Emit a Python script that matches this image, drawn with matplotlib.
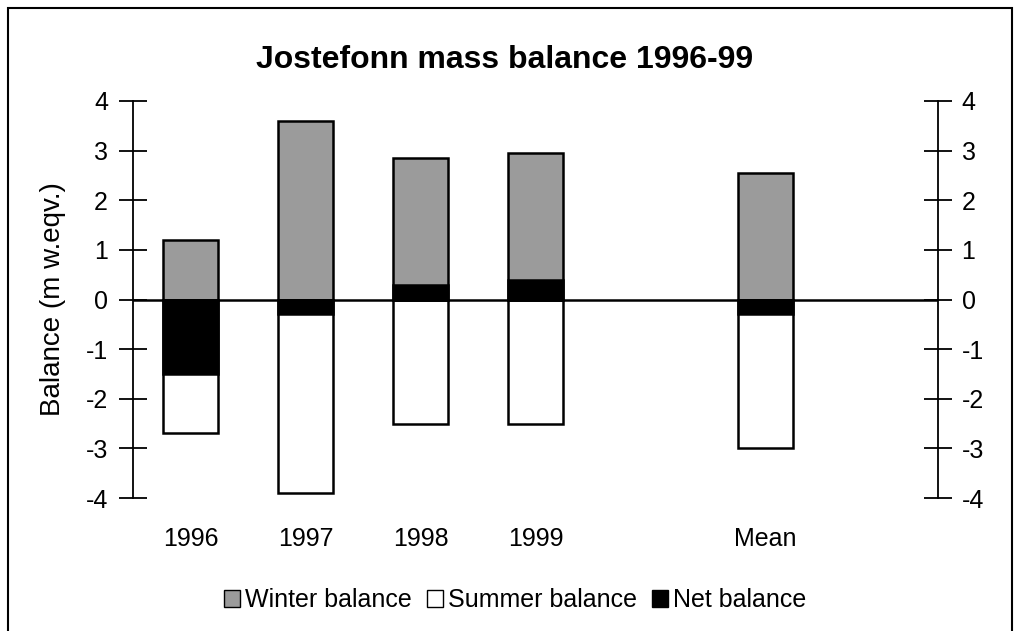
import matplotlib
matplotlib.use("Agg")
import matplotlib.pyplot as plt
from matplotlib.patches import Rectangle, Patch
import numpy as np

plt.rcParams['font.family'] = ['Liberation Sans', 'DejaVu Sans']

categories = ['1996', '1997', '1998', '1999', '', 'Mean', '']
winter = [1.2, 3.6, 2.85, 2.95, np.nan, 2.55, np.nan]
summer = [-2.7, -3.9, -2.5, -2.5, np.nan, -3.0, np.nan]
net = [-1.5, -0.3, 0.3, 0.4, np.nan, -0.3, np.nan]
yticks = [-4, -3, -2, -1, 0, 1, 2, 3, 4]

W, H = 1015, 631
fig = plt.figure(figsize=(W / 100, H / 100), dpi=100)

# outer frame
fig.patches.append(Rectangle((8 / W, -0.1), (1012 - 8) / W, (H - 8) / H + 0.1,
                             transform=fig.transFigure, fill=False,
                             edgecolor='black', linewidth=1.5))

ax = fig.add_axes([133 / W, (H - 498) / H, (938 - 133) / W, (498 - 101) / H])
x = np.arange(len(categories))
bw = 0.48
winter_col = '#9b9b9b'
ax.bar(x, winter, width=bw, color=winter_col, edgecolor='black', linewidth=1.8, zorder=2)
ax.bar(x, summer, width=bw, color='white', edgecolor='black', linewidth=1.8, zorder=2)
ax.bar(x, net, width=bw, color='black', edgecolor='black', linewidth=1.8, zorder=3)

ax.set_xlim(-0.5, len(categories) - 0.5)
ax.set_ylim(-4, 4)
ax.axhline(0, color='black', linewidth=1.8, zorder=4)

for s in ['top', 'bottom', 'right']:
    ax.spines[s].set_visible(False)
ax.spines['left'].set_linewidth(1.3)
ax.set_yticks(yticks)
ax.set_yticklabels([str(v) for v in yticks])
ax.tick_params(axis='y', direction='inout', length=20, width=1.3, labelsize=18, pad=8)
ax.set_xticks(x)
ax.set_xticklabels(categories)
ax.tick_params(axis='x', length=0, labelsize=18, pad=21)
ax.set_ylabel('Balance (m w.eqv.)', fontsize=20, labelpad=14)

ax2 = ax.twinx()
ax2.set_ylim(-4, 4)
for s in ['top', 'bottom', 'left']:
    ax2.spines[s].set_visible(False)
ax2.spines['right'].set_linewidth(1.3)
ax2.set_yticks(yticks)
ax2.set_yticklabels([str(v) for v in yticks])
ax2.tick_params(axis='y', direction='inout', length=20, width=1.3, labelsize=18, pad=7)

fig.text(505 / W, 1 - 60 / H, 'Jostefonn mass balance 1996-99', ha='center', va='center',
         fontsize=23, fontweight='bold')

handles = [Patch(facecolor=winter_col, edgecolor='black', linewidth=1.0, label='Winter balance'),
           Patch(facecolor='white', edgecolor='black', linewidth=1.0, label='Summer balance'),
           Patch(facecolor='black', edgecolor='black', linewidth=1.0, label='Net balance')]
fig.legend(handles=handles, loc='center', bbox_to_anchor=(515 / W, 1 - 600 / H), ncol=3,
           frameon=False, fontsize=18, handlelength=0.65, handleheight=0.65,
           handletextpad=0.2, columnspacing=0.6)

fig.savefig('out.png', dpi=100)
